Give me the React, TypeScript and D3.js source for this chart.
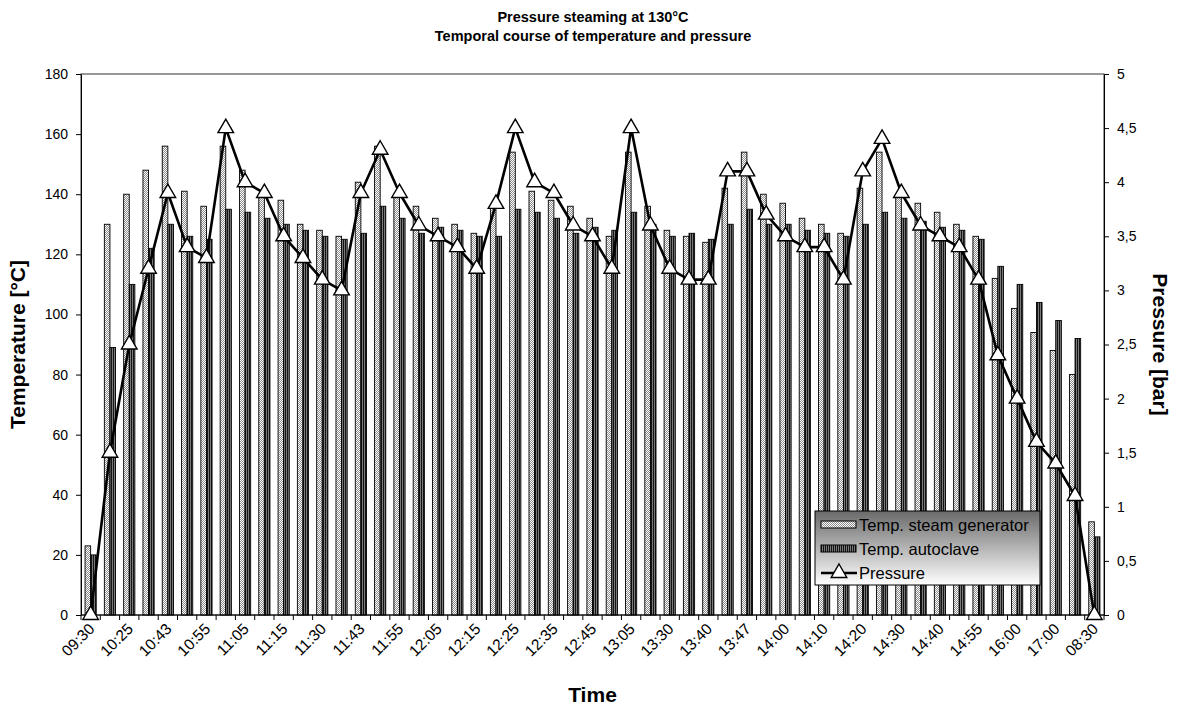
import React, { useRef, useEffect } from 'react';
import * as d3 from 'd3';

// --- DATA ---
// tick labels shown on every other category (Excel skips the odd ones)
const tickLabels = [
  '09:30', '10:25', '10:43', '10:55', '11:05', '11:15', '11:30', '11:43', '11:55',
  '12:05', '12:15', '12:25', '12:35', '12:45', '13:05', '13:30', '13:40', '13:47',
  '14:00', '14:10', '14:20', '14:30', '14:40', '14:55', '16:00', '17:00', '08:30',
];

const tempSteamGenerator = [
  23, 130, 140, 148, 156, 141, 136, 156, 148, 140, 138, 130, 128, 126, 144, 156, 140, 136,
  132, 130, 127, 136, 154, 141, 138, 136, 132, 126, 154, 136, 128, 126, 124, 142, 154, 140,
  137, 132, 130, 127, 142, 154, 140, 137, 134, 130, 126, 112, 102, 94, 88, 80, 31,
];

const tempAutoclave = [
  20, 89, 110, 122, 130, 126, 125, 135, 134, 132, 130, 128, 126, 125, 127, 136, 132, 127,
  129, 128, 126, 126, 135, 134, 132, 127, 129, 128, 134, 130, 126, 127, 125, 130, 135, 130,
  130, 128, 127, 126, 130, 134, 132, 131, 129, 128, 125, 116, 110, 104, 98, 92, 26,
];

const pressure = [
  0, 1.5, 2.5, 3.2, 3.9, 3.4, 3.3, 4.5, 4.0, 3.9, 3.5, 3.3, 3.1, 3.0, 3.9, 4.3, 3.9, 3.6,
  3.5, 3.4, 3.2, 3.8, 4.5, 4.0, 3.9, 3.6, 3.5, 3.2, 4.5, 3.6, 3.2, 3.1, 3.1, 4.1, 4.1, 3.7,
  3.5, 3.4, 3.4, 3.1, 4.1, 4.4, 3.9, 3.6, 3.5, 3.4, 3.1, 2.4, 2.0, 1.6, 1.4, 1.1, 0,
];

const tempTicks = [0, 20, 40, 60, 80, 100, 120, 140, 160, 180];
const pressureTicks = [0, 0.5, 1, 1.5, 2, 2.5, 3, 3.5, 4, 4.5, 5];

const FONT = '"Liberation Sans", Arial, sans-serif';

export default function App() {
  const svgRef = useRef<SVGSVGElement>(null);

  useEffect(() => {
    if (!svgRef.current) return;
    const W = 1177, H = 708;
    const margin = { top: 74, right: 73, bottom: 93, left: 81 };
    const width = W - margin.left - margin.right;
    const height = H - margin.top - margin.bottom;

    const svg = d3.select(svgRef.current);
    svg.selectAll('*').remove();
    svg.attr('width', W).attr('height', H);

    // patterns for the two bar series
    const defs = svg.append('defs');
    const dots = defs.append('pattern').attr('id', 'dots')
      .attr('patternUnits', 'userSpaceOnUse').attr('width', 2).attr('height', 2);
    dots.append('rect').attr('width', 2).attr('height', 2).attr('fill', '#ffffff');
    dots.append('rect').attr('width', 1).attr('height', 1).attr('fill', '#8c8c8c');
    dots.append('rect').attr('x', 1).attr('y', 1).attr('width', 1).attr('height', 1).attr('fill', '#8c8c8c');

    const stripes = defs.append('pattern').attr('id', 'stripes')
      .attr('patternUnits', 'userSpaceOnUse').attr('width', 2).attr('height', 2);
    stripes.append('rect').attr('width', 2).attr('height', 2).attr('fill', '#7a7a7a');
    stripes.append('rect').attr('width', 1).attr('height', 2).attr('fill', '#141414');

    const grad = defs.append('linearGradient').attr('id', 'legendGrad')
      .attr('x1', 0).attr('y1', 0).attr('x2', 0).attr('y2', 1);
    grad.append('stop').attr('offset', '0%').attr('stop-color', '#6a6a6a');
    grad.append('stop').attr('offset', '100%').attr('stop-color', '#ffffff');

    const chart = svg.append('g').attr('transform', `translate(${margin.left},${margin.top})`);

    // --- SCALES ---
    const idx = d3.range(tempSteamGenerator.length);
    const x = d3.scaleBand<number>().domain(idx).range([0, width]).padding(0);
    const inner = d3.scaleBand<string>().domain(['gen', 'auto'])
      .range([-5.6, 5.6]);
    const yT = d3.scaleLinear().domain([0, 180]).range([height, 0]);
    const yP = d3.scaleLinear().domain([0, 5]).range([height, 0]);
    const cx = (i: number) => (x(i) || 0) + x.bandwidth() / 2;

    // plot border
    chart.append('rect').attr('width', width).attr('height', height)
      .attr('fill', 'none').attr('stroke', '#333').attr('stroke-width', 1);

    // --- BARS ---
    chart.append('g').selectAll('rect').data(tempSteamGenerator).enter().append('rect')
      .attr('x', (d, i) => cx(i) + (inner('gen') || 0))
      .attr('y', d => yT(d))
      .attr('width', inner.bandwidth())
      .attr('height', d => height - yT(d))
      .attr('fill', 'url(#dots)').attr('stroke', '#000').attr('stroke-width', 0.9);

    chart.append('g').selectAll('rect').data(tempAutoclave).enter().append('rect')
      .attr('x', (d, i) => cx(i) + (inner('auto') || 0))
      .attr('y', d => yT(d))
      .attr('width', inner.bandwidth())
      .attr('height', d => height - yT(d))
      .attr('fill', 'url(#stripes)').attr('stroke', '#000').attr('stroke-width', 0.9);

    // --- AXES ---
    const styleAxis = (g: d3.Selection<SVGGElement, unknown, null, undefined>) => {
      g.select('.domain').attr('stroke', '#000');
      g.selectAll('.tick line').attr('stroke', '#000');
      g.selectAll('text').attr('fill', '#000')
        .style('font-family', FONT).style('font-size', '14px');
    };

    const left = chart.append('g')
      .call(d3.axisLeft(yT).tickValues(tempTicks).tickSize(5).tickSizeOuter(0).tickPadding(8));
    styleAxis(left);

    const right = chart.append('g').attr('transform', `translate(${width},0)`)
      .call(d3.axisRight(yP).tickValues(pressureTicks).tickSize(5).tickSizeOuter(0).tickPadding(8)
        .tickFormat(d => String(d).replace('.', ',')));
    styleAxis(right);

    // category axis: ticks on boundaries, labels on every other category
    const bottom = chart.append('g').attr('transform', `translate(0,${height})`);
    bottom.append('line').attr('x1', 0).attr('x2', width).attr('stroke', '#000');
    bottom.selectAll('line.tk').data(d3.range(idx.length + 1)).enter().append('line')
      .attr('class', 'tk')
      .attr('x1', i => i * x.step()).attr('x2', i => i * x.step())
      .attr('y1', 0).attr('y2', 5).attr('stroke', '#000');
    bottom.selectAll('text').data(tickLabels).enter().append('text')
      .attr('transform', (d, j) => `translate(${cx(j * 2) + 1},${11}) rotate(-45)`)
      .attr('text-anchor', 'end')
      .attr('dy', '0.35em')
      .style('font-family', FONT).style('font-size', '15.5px')
      .text(d => d);

    // --- PRESSURE LINE ---
    const line = d3.line<number>().x((d, i) => cx(i)).y(d => yP(d));
    chart.append('path').datum(pressure)
      .attr('d', line).attr('fill', 'none')
      .attr('stroke', '#000').attr('stroke-width', 2.6).attr('stroke-linejoin', 'round');

    const tri = d3.symbol().type(d3.symbolTriangle).size(105);
    chart.append('g').selectAll('path').data(pressure).enter().append('path')
      .attr('d', tri)
      .attr('transform', (d, i) => `translate(${cx(i)},${yP(d)})`)
      .attr('fill', '#fff').attr('stroke', '#000').attr('stroke-width', 1.4);

    // --- TITLES ---
    const title = svg.append('text').attr('x', 593).attr('text-anchor', 'middle')
      .style('font-family', FONT).style('font-weight', 'bold').style('font-size', '14.5px');
    title.append('tspan').attr('x', 593).attr('y', 22).text('Pressure steaming at 130°C');
    title.append('tspan').attr('x', 593).attr('y', 41).text('Temporal course of temperature and pressure');

    svg.append('text')
      .attr('transform', `translate(25,${margin.top + height / 2}) rotate(-90)`)
      .attr('text-anchor', 'middle')
      .style('font-family', FONT).style('font-weight', 'bold').style('font-size', '21px')
      .text('Temperature [°C]');

    svg.append('text')
      .attr('transform', `translate(1153,${margin.top + height / 2}) rotate(90)`)
      .attr('text-anchor', 'middle')
      .style('font-family', FONT).style('font-weight', 'bold').style('font-size', '21px')
      .text('Pressure [bar]');

    svg.append('text')
      .attr('x', margin.left + width / 2).attr('y', 702)
      .attr('text-anchor', 'middle')
      .style('font-family', FONT).style('font-weight', 'bold').style('font-size', '21px')
      .text('Time');

    // --- LEGEND ---
    const lg = svg.append('g').attr('transform', 'translate(815,511)');
    lg.append('rect').attr('width', 225).attr('height', 74)
      .attr('fill', 'url(#legendGrad)').attr('stroke', '#000').attr('stroke-width', 1);
    const items = [
      { label: 'Temp. steam generator', kind: 'gen' },
      { label: 'Temp. autoclave', kind: 'auto' },
      { label: 'Pressure', kind: 'line' },
    ];
    items.forEach((it, k) => {
      const cy = 14 + k * 24;
      if (it.kind === 'line') {
        lg.append('line').attr('x1', 6).attr('x2', 42).attr('y1', cy).attr('y2', cy)
          .attr('stroke', '#000').attr('stroke-width', 2.6);
        lg.append('path').attr('d', tri).attr('transform', `translate(24,${cy})`)
          .attr('fill', '#fff').attr('stroke', '#000').attr('stroke-width', 1.4);
      } else {
        lg.append('rect').attr('x', 6).attr('y', cy - 4).attr('width', 35).attr('height', 7)
          .attr('fill', it.kind === 'gen' ? 'url(#dots)' : 'url(#stripes)')
          .attr('stroke', '#000').attr('stroke-width', 1);
      }
      lg.append('text').attr('x', 44).attr('y', cy).attr('dy', '0.35em')
        .style('font-family', FONT).style('font-size', '16.5px')
        .text(it.label);
    });
  }, []);

  return (
    <div style={{ position: 'absolute', left: 0, top: 0 }}>
      <svg ref={svgRef}></svg>
    </div>
  );
}
